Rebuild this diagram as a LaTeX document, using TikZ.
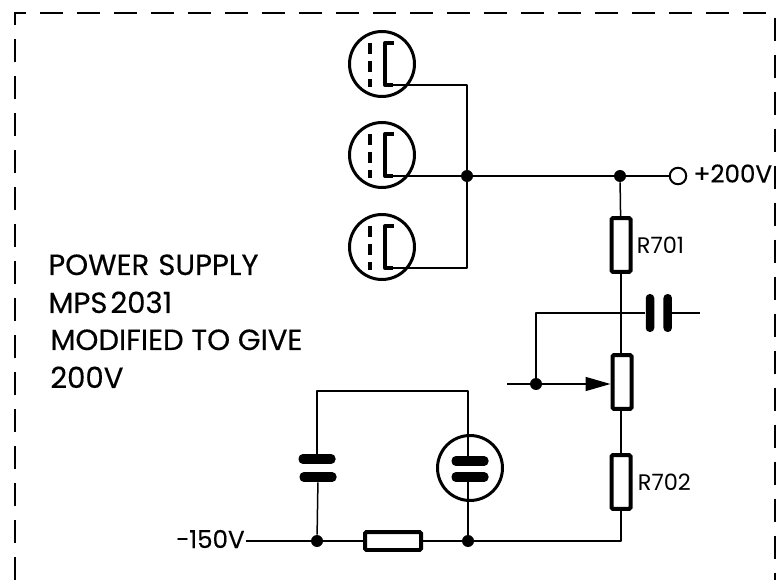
\documentclass[tikz,border=0pt]{standalone}
\usepackage{fontspec}
\setmainfont{Poppins}[FakeBold=0.35]
\newfontface\plainface{Poppins}
\usetikzlibrary{arrows.meta,positioning}
\tikzset{
    wire/.style={line width=0.03cm, line join=round},
    frameline/.style={line width=0.04cm, dash pattern=on 0.46cm off 0.28cm},
    junction/.style={circle, fill=black, inner sep=0pt, minimum size=0.24cm},
    terminal/.style={circle, draw, line width=0.04cm, fill=white, inner sep=0pt, minimum size=0.33cm},
    vres/.style={draw, rectangle, line width=0.08cm, rounded corners=0.03cm, fill=white, inner sep=0pt, minimum width=0.38cm, minimum height=1.08cm},
    hres/.style={draw, rectangle, line width=0.08cm, rounded corners=0.03cm, fill=white, inner sep=0pt, minimum width=1.12cm, minimum height=0.36cm},
    tubebody/.style={circle, draw, line width=0.06cm, inner sep=0pt, minimum size=1.3cm},
    hplate/.style={rectangle, fill=black, rounded corners=0.09cm, inner sep=0pt, minimum width=0.74cm, minimum height=0.2cm},
    vplate/.style={rectangle, fill=black, rounded corners=0.08cm, inner sep=0pt, minimum width=0.17cm, minimum height=0.76cm},
    title/.style={anchor=base west, inner sep=0pt, font=\fontsize{16.6}{19}\selectfont},
    smalllabel/.style={inner sep=0pt, font=\plainface\fontsize{12.8}{15}\selectfont},
    biglabel/.style={inner sep=0pt, font=\fontsize{14}{17}\selectfont}
}

\begin{document}
\begin{tikzpicture}[x=0.02cm, y=-0.02cm]
    \useasboundingbox (0,0) rectangle (777,580);

    % Dashed outline, open at the bottom
    \draw[frameline] (15,580) -- (15,13) -- (775,13) -- (775,580);

    % Three valves
    \foreach \name/\ypos in {tubea/64, tubeb/155, tubec/247} {
        \node[tubebody] (\name) at (382,\ypos) {};
        \draw[line width=0.07cm, dash pattern=on 0.22cm off 0.14cm] (370,{\ypos-21}) -- (370,{\ypos+23});
        \coordinate (\name anode) at (385,{\ypos+21});
        \draw[line width=0.08cm, line join=round] (394,{\ypos-21}) -- (385,{\ypos-21}) -- (\name anode) -- (393,{\ypos+21});
    }

    % Junctions and terminal
    \node[junction] (dotb) at (467,176) {};
    \node[junction] (dottop) at (620,176) {};
    \node[terminal] (plus) at (678,176) {};
    \node[junction] (dotwiper) at (536,384) {};
    \node[junction] (dotleft) at (317,541) {};
    \node[junction] (dotright) at (468,541) {};

    % Resistors
    \node[vres] (r701) at (621,245) {};
    \node[vres] (pot) at (622,382) {};
    \node[vres] (r702) at (621,482) {};
    \node[hres] (rbottom) at (393,541) {};

    % Capacitors
    \node[vplate] (capa) at (650,313) {};
    \node[vplate, right=0.17cm of capa] (capb) {};
    \node[hplate] (capc) at (317,459) {};
    \node[hplate] (capd) at (318,477) {};

    % Stabiliser valve
    \node[tubebody] (tubed) at (470,468) {};
    \node[hplate] (tubedtop) at (470,461) {};
    \node[hplate] (tubedbot) at (470,477) {};

    % Free ends
    \coordinate (capout) at (700,313);
    \coordinate (wiperin) at (507,384);
    \coordinate (minus) at (246,541);

    % Wiring
    \draw[wire] (tubeaanode) -| (dotb);
    \draw[wire] (tubecanode) -| (dotb);
    \draw[wire] (tubebanode) -- (dotb) -- (dottop) -- (plus);
    \draw[wire] (dottop) -- (r701);
    \draw[wire] (r701) -- (r701 |- pot.north);
    \draw[wire] (r702 |- pot.south) -- (r702);
    \draw[wire] (r702) |- (dotright);
    \draw[wire] (dotwiper) |- (capa);
    \draw[wire] (capb) -- (capout);
    \draw[wire] (wiperin) -- (dotwiper);
    \draw[wire, -{Triangle[length=0.5cm, width=0.28cm]}] (dotwiper) -- (pot.west |- dotwiper);
    \draw[wire] (minus) -- (dotleft) -- (rbottom) -- (dotright);
    \draw[wire] (dotleft) -- (capd);
    \draw[wire] (capc) -- (317,391) -- (468,391) -- (tubedtop.center -| dotright);
    \draw[wire] (tubedbot.center -| dotright) -- (dotright);

    % Labels
    \node[biglabel, right=0.12cm of plus, yshift=0.05cm] (plusv) {+200V};
    \node[smalllabel, right=0.08cm of r701] (lr701) {R701};
    \node[smalllabel, right=0.1cm of r702] (lr702) {R702};
    \node[biglabel, left=0.02cm of minus, yshift=0.04cm] (minusv) {−150V};
    \node[title] (lineone) at (48,275) {POWER\hspace{0.18cm}SUPPLY};
    \node[title] (linetwo) at (48,313) {MPS\hspace{0.06cm}2031};
    \node[title] (linethree) at (50,350) {MODIFIED TO GIVE};
    \node[title] (linefour) at (50,388) {200V};
\end{tikzpicture}
\end{document}
